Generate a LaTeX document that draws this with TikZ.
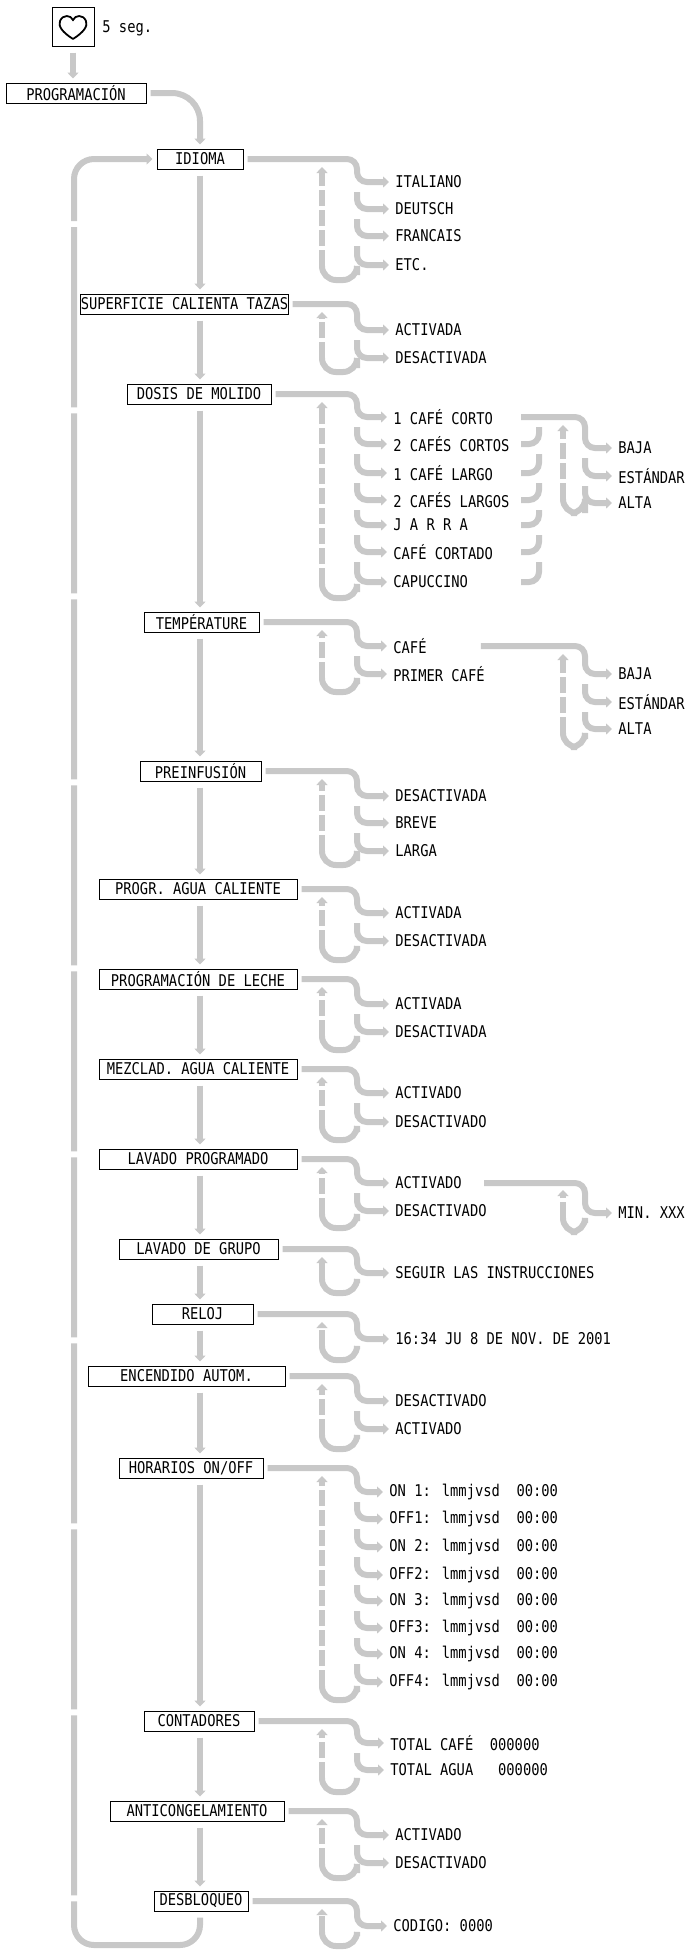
\documentclass[tikz,border=0pt]{standalone}
\usepackage{fontspec}
\newfontfamily\mono{DejaVu Sans Mono}[FakeStretch=0.85]
\usetikzlibrary{arrows.meta}
\definecolor{cg}{RGB}{200,200,200}
\tikzset{
 tx/.style={font=\mono\fontsize{8.1}{9}\selectfont},
 box/.style={tx,draw=black,line width=0.5pt,inner sep=0pt,minimum height=10pt},
 opt/.style={tx,anchor=west,inner sep=0pt},
 conn/.style={draw=cg,line width=3pt,rounded corners=5pt},
 carr/.style={conn,-{Triangle[length=3pt,width=5.5pt]}},
 dcol/.style={draw=cg,line width=3pt,dash pattern=on 8pt off 2pt,-{Triangle[length=3pt,width=5.5pt]}},
}
\newcommand\bx[5]{\node[box,minimum width={(#3-#2)*0.5pt}] (#1) at ({(#2+#3)/2},#4) {#5};}
\newcommand\op[4]{\node[opt] (#1) at (#2,#3) {#4};}
\newcommand\fc[4]{\draw[carr] #1 -- (#2,#3) |- ([xshift=-3pt]#4.west);}
\newcommand\nc[3]{\draw[carr] ([yshift=-5pt]#2.west -| #1) |- ([xshift=-3pt]#3.west);}
\newcommand\uc[6]{\draw[conn,rounded corners=7pt] ([yshift=-5pt]#3.west -| #1) -- (#1 |- 0,#4) -- (#2 |- 0,#4) -- (#6,#4-12);
 \draw[dcol] (#6,#4-14) -- (#6,#5);}
\newcommand\mc[2]{\draw[carr] ([yshift=-3pt]#1.south -| mx) -- ([yshift=2pt]#2.north -| mx);}
\begin{document}
\begin{tikzpicture}[x=0.5pt,y=-0.5pt]
\useasboundingbox[fill=white] (0,0) rectangle (690,1951);
\coordinate (mx) at (200,0);
\coordinate (cx) at (357,0);
\coordinate (cd) at (322,0);
\coordinate (sx) at (585,0);
\coordinate (sd) at (563,0);
\coordinate (jx) at (521,0);
\coordinate (jy) at (539,0);
% heart
\node[draw=black,line width=0.5pt,minimum width=21pt,minimum height=19.5pt,inner sep=0pt] (hrt) at (73,26.5) {};
\draw[line width=0.9pt] (73,39) .. controls (62,32) and (58,26) .. (60,21) .. controls (63,14) and (71,15) .. (73,20) .. controls (75,15) and (83,14) .. (86,21) .. controls (88,26) and (84,32) .. (73,39);
\node[opt] (seg) at (102,28) {5 seg.};
% boxes
\bx{prog}{6}{146}{93}{PROGRAMACIÓN}
\bx{idi}{157}{243}{159}{IDIOMA}
\bx{sup}{81}{288}{304}{SUPERFICIE CALIENTA TAZAS}
\bx{dos}{127}{271}{394}{DOSIS DE MOLIDO}
\bx{tem}{144}{259}{622}{TEMPÉRATURE}
\bx{pre}{140}{261}{771}{PREINFUSIÓN}
\bx{agu}{99}{297}{889}{PROGR. AGUA CALIENTE}
\bx{lec}{99}{297}{979}{PROGRAMACIÓN DE LECHE}
\bx{mez}{99}{297}{1069}{MEZCLAD. AGUA CALIENTE}
\bx{lav}{99}{297}{1159}{LAVADO PROGRAMADO}
\bx{gru}{119}{278}{1249}{LAVADO DE GRUPO}
\bx{rel}{152}{253}{1314}{RELOJ}
\bx{enc}{88}{285}{1376}{ENCENDIDO AUTOM.}
\bx{hor}{119}{263}{1468}{HORARIOS ON/OFF}
\bx{con}{144}{254}{1721}{CONTADORES}
\bx{ant}{110}{284}{1811}{ANTICONGELAMIENTO}
\bx{des}{154}{248}{1901}{DESBLOQUEO}
% main column
\draw[carr] ([yshift=-3pt]hrt.south) -- ([yshift=2pt]prog.north -| hrt.south);
\draw[carr,rounded corners=14pt] ([xshift=2pt]prog.east) -- (200,93) -- ([yshift=2pt]idi.north);
\mc{idi}{sup}\mc{sup}{dos}\mc{dos}{tem}\mc{tem}{pre}\mc{pre}{agu}\mc{agu}{lec}
\mc{lec}{mez}\mc{mez}{lav}\mc{lav}{gru}\mc{gru}{rel}\mc{rel}{enc}\mc{enc}{hor}
\mc{hor}{con}\mc{con}{ant}\mc{ant}{des}
\draw[carr,rounded corners=10pt,dash pattern=on 90pt off 3pt] ([yshift=-3pt]des.south -| mx) -- (200,1945) -- (74,1945) -- (74,159) -- ([xshift=-2pt]idi.west);
% IDIOMA
\op{i1}{395}{182}{ITALIANO}\op{i2}{395}{209}{DEUTSCH}\op{i3}{395}{236}{FRANCAIS}\op{i4}{395}{265}{ETC.}
\fc{([xshift=2pt]idi.east)}{357}{159}{i1}\nc{cx}{i1}{i2}\nc{cx}{i2}{i3}\nc{cx}{i3}{i4}
\uc{cx}{cd}{i4}{280}{167}{322}
% SUPERFICIE
\op{s1}{395}{330}{ACTIVADA}\op{s2}{395}{358}{DESACTIVADA}
\fc{([xshift=2pt]sup.east)}{357}{304}{s1}\nc{cx}{s1}{s2}
\uc{cx}{cd}{s2}{372}{312}{322}
% DOSIS
\op{d1}{393}{417}{1 CAFÉ CORTO}\op{d2}{393}{444}{2 CAFÉS CORTOS}\op{d3}{393}{473}{1 CAFÉ LARGO}
\op{d4}{393}{500}{2 CAFÉS LARGOS}\op{d5}{393}{525}{J A R R A}\op{d6}{393}{552}{CAFÉ CORTADO}\op{d7}{393}{582}{CAPUCCINO}
\fc{([xshift=2pt]dos.east)}{357}{394}{d1}\nc{cx}{d1}{d2}\nc{cx}{d2}{d3}\nc{cx}{d3}{d4}\nc{cx}{d4}{d5}\nc{cx}{d5}{d6}\nc{cx}{d6}{d7}
\uc{cx}{cd}{d7}{598}{402}{322}
\foreach \a/\b in {d1/d2,d2/d3,d3/d4,d4/d5,d5/d6,d6/d7}
 \draw[conn] (jx |- \b.west) -| ([yshift=-5pt]jy |- \a.west);
\op{b1}{618}{448}{BAJA}\op{b2}{618}{476}{ESTÁNDAR}\op{b3}{618}{503}{ALTA}
\fc{(jx |- d1.west)}{585}{417}{b1}\nc{sx}{b1}{b2}\nc{sx}{b2}{b3}
\uc{sx}{sd}{b3}{513}{425}{563}
% TEMPERATURE
\op{t1}{393}{646}{CAFÉ}\op{t2}{393}{674}{PRIMER CAFÉ}
\fc{([xshift=2pt]tem.east)}{357}{622}{t1}\nc{cx}{t1}{t2}
\uc{cx}{cd}{t2}{692}{630}{322}
\op{c1}{618}{674}{BAJA}\op{c2}{618}{702}{ESTÁNDAR}\op{c3}{618}{729}{ALTA}
\fc{([xshift=27pt]t1.east)}{585}{646}{c1}\nc{sx}{c1}{c2}\nc{sx}{c2}{c3}
\uc{sx}{sd}{c3}{747}{654}{563}
% PREINFUSION
\op{p1}{395}{796}{DESACTIVADA}\op{p2}{395}{823}{BREVE}\op{p3}{395}{851}{LARGA}
\fc{([xshift=2pt]pre.east)}{357}{771}{p1}\nc{cx}{p1}{p2}\nc{cx}{p2}{p3}
\uc{cx}{cd}{p3}{865}{779}{322}
% AGUA
\op{a1}{395}{913}{ACTIVADA}\op{a2}{395}{941}{DESACTIVADA}
\fc{([xshift=2pt]agu.east)}{357}{889}{a1}\nc{cx}{a1}{a2}
\uc{cx}{cd}{a2}{960}{897}{322}
% LECHE
\op{l1}{395}{1004}{ACTIVADA}\op{l2}{395}{1032}{DESACTIVADA}
\fc{([xshift=2pt]lec.east)}{357}{979}{l1}\nc{cx}{l1}{l2}
\uc{cx}{cd}{l2}{1050}{987}{322}
% MEZCLAD
\op{m1}{395}{1093}{ACTIVADO}\op{m2}{395}{1122}{DESACTIVADO}
\fc{([xshift=2pt]mez.east)}{357}{1069}{m1}\nc{cx}{m1}{m2}
\uc{cx}{cd}{m2}{1140}{1077}{322}
% LAVADO PROGRAMADO
\op{v1}{395}{1183}{ACTIVADO}\op{v2}{395}{1211}{DESACTIVADO}
\fc{([xshift=2pt]lav.east)}{357}{1159}{v1}\nc{cx}{v1}{v2}
\uc{cx}{cd}{v2}{1228}{1167}{322}
\op{x1}{618}{1213}{MIN. XXX}
\fc{([xshift=11pt]v1.east)}{585}{1183}{x1}
\uc{sx}{sd}{x1}{1232}{1190}{563}
% GRUPO
\op{g1}{395}{1273}{SEGUIR LAS INSTRUCCIONES}
\fc{([xshift=2pt]gru.east)}{357}{1249}{g1}
\uc{cx}{cd}{g1}{1293}{1257}{322}
% RELOJ
\op{r1}{395}{1339}{16:34 JU 8 DE NOV. DE 2001}
\fc{([xshift=2pt]rel.east)}{357}{1314}{r1}
\uc{cx}{cd}{r1}{1360}{1322}{322}
% ENCENDIDO
\op{e1}{395}{1401}{DESACTIVADO}\op{e2}{395}{1429}{ACTIVADO}
\fc{([xshift=2pt]enc.east)}{357}{1376}{e1}\nc{cx}{e1}{e2}
\uc{cx}{cd}{e2}{1449}{1384}{322}
% HORARIOS
\op{h1}{389}{1492}{ON 1: lmmjvsd\ \ 00:00}\op{h2}{389}{1519}{OFF1: lmmjvsd\ \ 00:00}
\op{h3}{389}{1547}{ON 2: lmmjvsd\ \ 00:00}\op{h4}{389}{1575}{OFF2: lmmjvsd\ \ 00:00}
\op{h5}{389}{1601}{ON 3: lmmjvsd\ \ 00:00}\op{h6}{389}{1628}{OFF3: lmmjvsd\ \ 00:00}
\op{h7}{389}{1654}{ON 4: lmmjvsd\ \ 00:00}\op{h8}{389}{1682}{OFF4: lmmjvsd\ \ 00:00}
\fc{([xshift=2pt]hor.east)}{357}{1468}{h1}
\nc{cx}{h1}{h2}\nc{cx}{h2}{h3}\nc{cx}{h3}{h4}\nc{cx}{h4}{h5}\nc{cx}{h5}{h6}\nc{cx}{h6}{h7}\nc{cx}{h7}{h8}
\uc{cx}{cd}{h8}{1700}{1476}{322}
% CONTADORES
\op{k1}{390}{1743}{TOTAL CAFÉ\ \ 000000}\op{k2}{390}{1770}{TOTAL AGUA\ \ \ 000000}
\fc{([xshift=2pt]con.east)}{357}{1721}{k1}\nc{cx}{k1}{k2}
\uc{cx}{cd}{k2}{1792}{1729}{322}
% ANTICONGELAMIENTO
\op{n1}{395}{1835}{ACTIVADO}\op{n2}{395}{1863}{DESACTIVADO}
\fc{([xshift=2pt]ant.east)}{357}{1811}{n1}\nc{cx}{n1}{n2}
\uc{cx}{cd}{n2}{1878}{1819}{322}
% DESBLOQUEO
\op{q1}{393}{1926}{CODIGO: 0000}
\fc{([xshift=2pt]des.east)}{357}{1901}{q1}
\uc{cx}{cd}{q1}{1946}{1909}{322}
\end{tikzpicture}
\end{document}
